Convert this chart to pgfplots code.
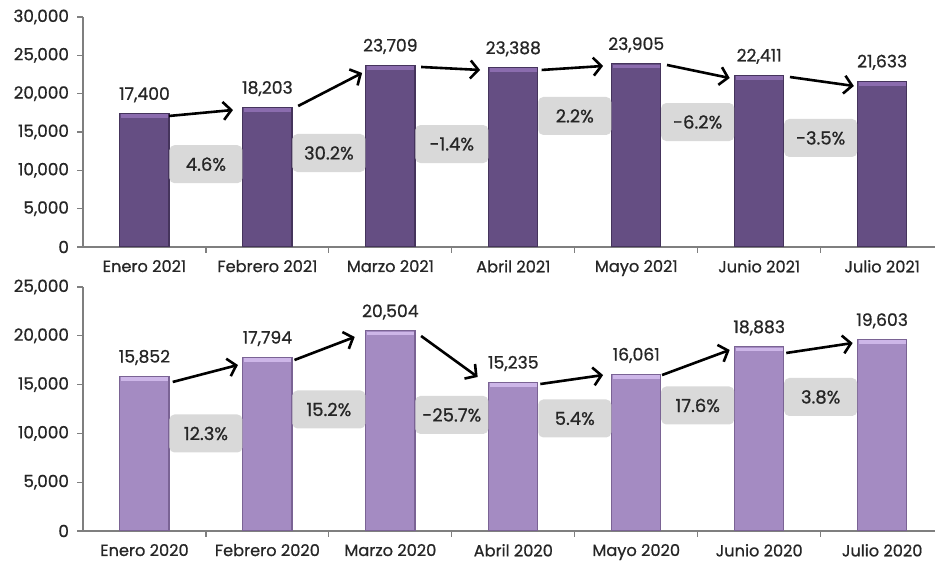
\documentclass[border=0pt]{standalone}
\usepackage{fontspec}
\setmainfont{Poppins}[FakeBold=0.8]
\usepackage{pgfplots}
\usepackage{pgfplotstable}
\pgfplotsset{compat=1.18}
\usetikzlibrary{arrows.meta}

\definecolor{barA}{HTML}{654E83}
\definecolor{barAtop}{HTML}{8B6CAE}
\definecolor{barAedge}{HTML}{45345C}
\definecolor{barB}{HTML}{A48BC2}
\definecolor{barBtop}{HTML}{CDB6E8}
\definecolor{barBedge}{HTML}{7A6394}
\definecolor{boxgray}{HTML}{D9D9D9}
\definecolor{txt}{HTML}{262626}
\definecolor{axisgray}{HTML}{7F7F7F}

% ventas mensuales
\pgfplotstableread{
x y
0 17400
1 18203
2 23709
3 23388
4 23905
5 22411
6 21633
}\datatop
\pgfplotstableread{
x y
0 15852
1 17794
2 20504
3 15235
4 16061
5 18883
6 19603
}\databot

\pgfplotsset{
  mesbar/.style={
    scale only axis, width=426pt,
    xmin=-0.5, xmax=6.43, ymin=0,
    axis lines*=left,
    axis line style={axisgray, line width=0.75pt},
    tick align=outside,
    major tick length=3pt, minor tick length=3pt,
    xtick={0,...,6},
    minor xtick={0.5,1.5,...,5.5},
    major x tick style={draw=none},
    minor x tick style={axisgray, line width=0.6pt},
    y tick style={axisgray, line width=0.6pt},
    scaled y ticks=false,
    /pgf/number format/.cd, fixed, precision=0, 1000 sep={,}, assume math mode=true,
    /pgfplots/.cd,
    yticklabel style={font=\fontsize{8.4}{9}\selectfont, text=txt, xshift=-0.5pt},
    xticklabel style={font=\fontsize{8.1}{9}\selectfont, text=txt, yshift=0pt},
  },
  barras/.style={ybar, bar width=0.4, line width=0.6pt,
    nodes near coords,
    every node near coord/.append style={font=\fontsize{8.6}{9}\selectfont, text=txt, yshift=2pt}},
  brillo/.style={only marks, mark=-, mark size=11.7pt,
    mark options={draw=#1, line width=1.8pt, yshift=-1.3pt}},
}
\tikzset{
  pct/.style={fill=boxgray, rounded corners=2.5pt, minimum width=36.5pt,
    minimum height=19pt, inner sep=0pt, text=txt, font=\fontsize{9}{10}\selectfont},
  flecha/.style={black, line width=1.3pt, -{Straight Barb[length=4pt,width=9pt]}},
}

\begin{document}
\begin{tikzpicture}
\begin{axis}[mesbar, at={(41.5pt,157pt)}, anchor=south west, height=115pt,
    ymax=30000, ytick={0,5000,...,30000},
    xticklabels={Enero 2021, Febrero 2021, Marzo 2021, Abril 2021, Mayo 2021, Junio 2021, Julio 2021}]
\addplot[barras, fill=barA, draw=barAedge] table[x=x,y=y]{\datatop};
\addplot[brillo=barAtop] table[x=x,y=y]{\datatop};
\node[pct] at (axis cs:0.5,10800) {4.6\%};
\node[pct] at (axis cs:1.5,12260) {30.2\%};
\node[pct] at (axis cs:2.5,13430) {-1.4\%};
\node[pct] at (axis cs:3.5,17090) {2.2\%};
\node[pct] at (axis cs:4.5,16300) {-6.2\%};
\node[pct] at (axis cs:5.5,14220) {-3.5\%};
\draw[flecha] (axis cs:0.20,17090) -- (axis cs:0.72,17870);
\draw[flecha] (axis cs:1.25,18390) -- (axis cs:1.77,22700);
\draw[flecha] (axis cs:2.25,23480) -- (axis cs:2.73,23090);
\draw[flecha] (axis cs:3.23,23090) -- (axis cs:3.73,23610);
\draw[flecha] (axis cs:4.25,23740) -- (axis cs:4.76,22040);
\draw[flecha] (axis cs:5.25,22170) -- (axis cs:5.77,21000);
\end{axis}

\begin{axis}[mesbar, at={(41.5pt,15pt)}, anchor=south west, height=122pt,
    ymax=25000, ytick={0,5000,...,25000},
    xticklabels={Enero 2020, Febrero 2020, Marzo 2020, Abril 2020, Mayo 2020, Junio 2020, Julio 2020}]
\addplot[barras, fill=barB, draw=barBedge] table[x=x,y=y]{\databot};
\addplot[brillo=barBtop] table[x=x,y=y]{\databot};
\node[pct] at (axis cs:0.5,9990) {12.3\%};
\node[pct] at (axis cs:1.5,12450) {15.2\%};
\node[pct] at (axis cs:2.5,11890) {-25.7\%};
\node[pct] at (axis cs:3.5,11530) {5.4\%};
\node[pct] at (axis cs:4.5,12860) {17.6\%};
\node[pct] at (axis cs:5.5,13730) {3.8\%};
\draw[flecha] (axis cs:0.23,15270) -- (axis cs:0.76,17010);
\draw[flecha] (axis cs:1.22,17520) -- (axis cs:1.71,19880);
\draw[flecha] (axis cs:2.25,19980) -- (axis cs:2.71,15780);
\draw[flecha] (axis cs:3.22,15060) -- (axis cs:3.73,15980);
\draw[flecha] (axis cs:4.21,15980) -- (axis cs:4.76,18550);
\draw[flecha] (axis cs:5.22,18240) -- (axis cs:5.76,19260);
\end{axis}
\pgfresetboundingbox
\useasboundingbox (0,0) rectangle (467.5pt,280.5pt);
\end{tikzpicture}
\end{document}
